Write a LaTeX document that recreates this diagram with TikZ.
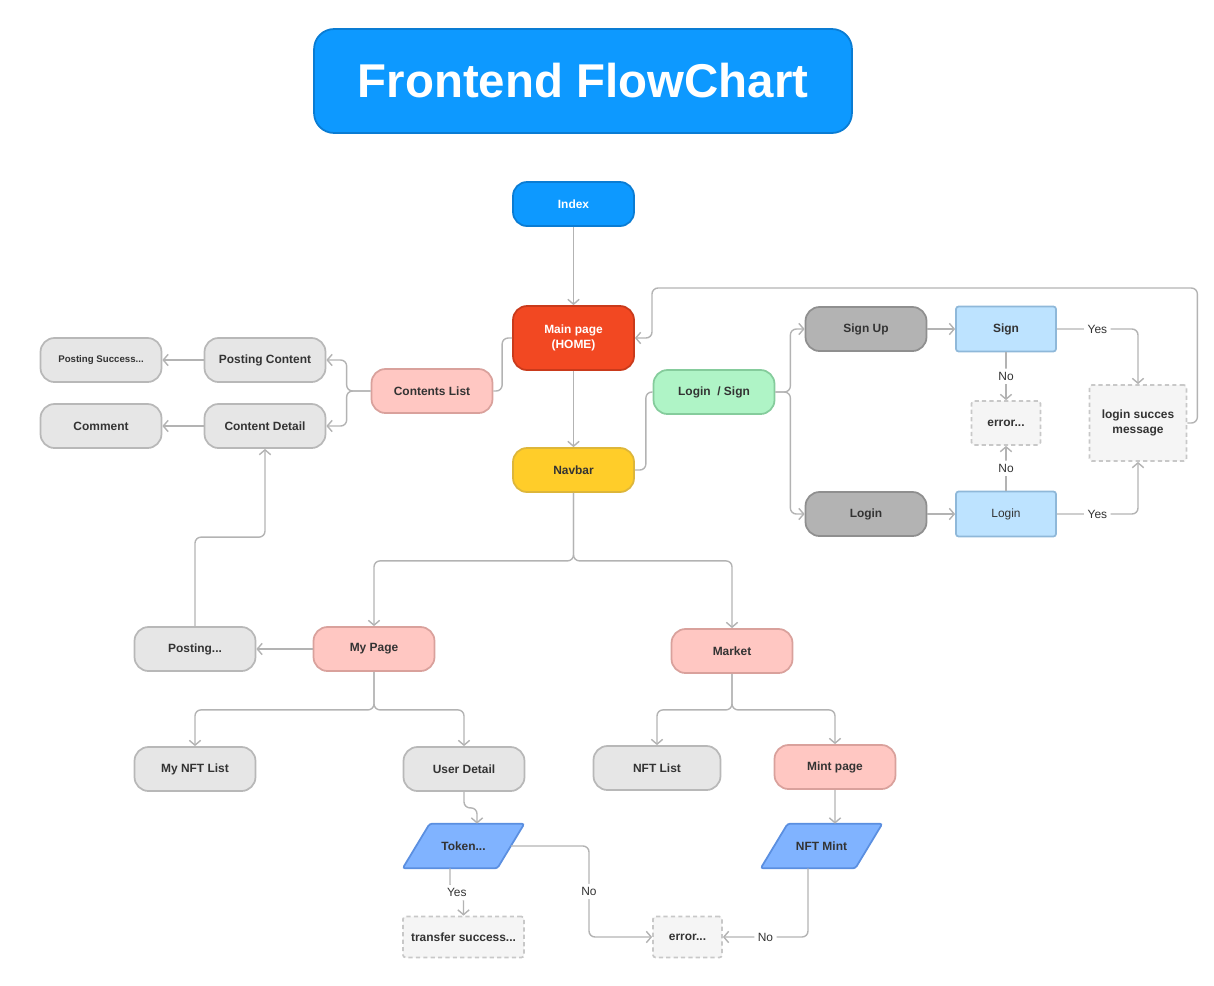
\documentclass[tikz,border=0pt]{standalone}
\usepackage{fontspec}
\setmainfont{Liberation Sans}
\usetikzlibrary{arrows.meta}
\pgfdeclarelayer{background}
\pgfsetlayers{background,main}

\definecolor{txtgray}{HTML}{333333}
\definecolor{linkgray}{HTML}{B3B3B3}
\definecolor{figblue}{HTML}{0D99FF}
\definecolor{figbluedk}{HTML}{0A7CD3}
\definecolor{homered}{HTML}{F24822}
\definecolor{homereddk}{HTML}{C93A1B}
\definecolor{navyel}{HTML}{FFCD29}
\definecolor{navyeldk}{HTML}{DDB63A}
\definecolor{pinkfill}{HTML}{FFC7C2}
\definecolor{pinkdk}{HTML}{D9A19C}
\definecolor{greenfill}{HTML}{AFF4C6}
\definecolor{greendk}{HTML}{85CC9C}
\definecolor{lightgray}{HTML}{E6E6E6}
\definecolor{lightgraydk}{HTML}{B8B8B8}
\definecolor{midgray}{HTML}{B3B3B3}
\definecolor{midgraydk}{HTML}{8F8F8F}
\definecolor{skyfill}{HTML}{BDE3FF}
\definecolor{skydk}{HTML}{8FB8D9}
\definecolor{paramblue}{HTML}{80B3FF}
\definecolor{parambluedk}{HTML}{5B8FE0}
\definecolor{notefill}{HTML}{F5F5F5}
\definecolor{notedk}{HTML}{C8C8C8}

\begin{document}
\begin{tikzpicture}[x=0.02cm,y=-0.02cm,
  every node/.style={font=\fontsize{6.8}{8.2}\selectfont\bfseries,text=txtgray,align=center,inner sep=0pt},
  pill/.style={rounded corners=0.28cm,minimum width=2.42cm,minimum height=0.88cm,line width=1pt},
  graypill/.style={pill,fill=lightgray,draw=lightgraydk},
  pinkpill/.style={pill,fill=pinkfill,draw=pinkdk},
  darkpill/.style={pill,fill=midgray,draw=midgraydk},
  skybox/.style={rounded corners=1.5pt,minimum width=2cm,minimum height=0.9cm,line width=1pt,fill=skyfill,draw=skydk},
  notebox/.style={rounded corners=1.5pt,minimum width=1.38cm,minimum height=0.88cm,line width=1pt,fill=notefill,draw=notedk,dash pattern=on 2.4pt off 1.8pt},
  parabody/.style={minimum width=1.88cm,minimum height=0.88cm},
  paraline/.style={rounded corners=1.5pt,line width=1pt,fill=paramblue,draw=parambluedk},
  link/.style={draw=linkgray,line width=0.8pt,rounded corners=0.12cm},
  arr/.style={link,-{Straight Barb[length=2.8pt,width=6.5pt]}},
  lbl/.style={fill=white,font=\fontsize{6.8}{8.2}\selectfont,inner sep=2pt}
]
\useasboundingbox (0,0) rectangle (1214,985);

\node[rounded corners=0.4cm,minimum width=10.76cm,minimum height=2.08cm,fill=figblue,draw=figbluedk,line width=1pt,text=white,font=\fontsize{27}{30}\selectfont\bfseries] (title) at (583,81) {Frontend FlowChart};

\node[pill,fill=figblue,draw=figbluedk,text=white] (index) at (573.5,204) {Index};
\node[pill,minimum height=1.28cm,fill=homered,draw=homereddk,text=white] (main) at (573.5,338) {Main page\\(HOME)};
\node[pill,fill=navyel,draw=navyeldk] (navbar) at (573.5,470) {Navbar};

\node[pinkpill] (clist) at (432,391) {Contents List};
\node[graypill] (pcont) at (265,360) {Posting Content};
\node[graypill] (cdet) at (265,426) {Content Detail};
\node[graypill,font=\fontsize{5.5}{6.6}\selectfont\bfseries] (psucc) at (101,360) {Posting Success...};
\node[graypill] (comment) at (101,426) {Comment};

\node[pill,fill=greenfill,draw=greendk] (login) at (714,392) {Login\ \ / Sign};
\node[darkpill] (signup) at (866,329) {Sign Up};
\node[darkpill] (loginbtn) at (866,514) {Login};
\node[skybox] (sign) at (1006,329) {Sign};
\node[skybox,font=\fontsize{6.8}{8.2}\selectfont] (loginbox) at (1006,514) {Login};
\node[notebox] (err1) at (1006,423) {error...};
\node[notebox,minimum width=1.94cm,minimum height=1.52cm] (msg) at (1138,423) {login succes\\message};

\node[pinkpill] (mypage) at (374,649) {My Page};
\node[pinkpill] (market) at (732,651) {Market};
\node[graypill] (posting) at (195,649) {Posting...};
\node[graypill] (mynft) at (195,769) {My NFT List};
\node[graypill] (udet) at (464,769) {User Detail};
\node[graypill,minimum width=2.54cm] (nftlist) at (657,768) {NFT List};
\node[pinkpill] (mint) at (835,767) {Mint page};
\node[parabody] (token) at (463.5,846) {Token...};
\node[parabody] (nftmint) at (821.5,846) {NFT Mint};
\node[notebox,minimum width=2.42cm,minimum height=0.82cm] (xfer) at (463.5,937) {transfer success...};
\node[notebox,minimum height=0.82cm] (err2) at (687.5,937) {error...};

\begin{pgfonlayer}{background}
\foreach \p in {token,nftmint}
  \draw[paraline] ([xshift=-0.27cm]\p.south west) -- ([xshift=0.27cm]\p.north west)
    -- ([xshift=0.27cm]\p.north east) -- ([xshift=-0.27cm]\p.south east) -- cycle;
\end{pgfonlayer}

\draw[arr] (index) -- (main);
\draw[arr] (main) -- (navbar);
\draw[link] (main.west) -- ++(-10,0) |- (clist.east);
\draw[arr] (clist.west) -- ++(-24,0) |- (pcont.east);
\draw[arr] (clist.west) -- ++(-24,0) |- (cdet.east);
\draw[arr] (pcont) -- (psucc);
\draw[arr] (cdet) -- (comment);

\draw[link] (navbar.east) -- ++(11,0) |- (login.west);
\draw[arr] (login.east) -- ++(15,0) |- (signup.west);
\draw[arr] (login.east) -- ++(15,0) |- (loginbtn.west);
\draw[arr] (signup) -- (sign);
\draw[arr] (loginbtn) -- (loginbox);
\draw[arr] (sign) -- node[lbl]{No} (err1);
\draw[arr] (loginbox) -- node[lbl]{No} (err1);
\draw[arr] (sign.east) -| node[lbl,pos=0.25]{Yes} (msg.north);
\draw[arr] (loginbox.east) -| node[lbl,pos=0.25]{Yes} (msg.south);
\draw[arr] (msg.east) -- ++(10,0) |- (652,288) |- (main.east);

\draw[arr] (navbar.south) -- ++(0,68) -| (mypage.north);
\draw[arr] (navbar.south) -- ++(0,68) -| (market.north);
\draw[arr] (mypage) -- (posting);
\draw[arr] (posting.north) -- ++(0,-89) -| (cdet.south);
\draw[arr] (mypage.south) -- ++(0,38) -| (mynft.north);
\draw[arr] (mypage.south) -- ++(0,38) -| (udet.north);
\draw[arr] (market.south) -- ++(0,36) -| (nftlist.north);
\draw[arr] (market.south) -- ++(0,36) -| (mint.north);
\draw[arr] (udet.south) -- ++(0,16) -| ([xshift=0.27cm]token.north);
\draw[arr] ([xshift=-0.27cm]token.south) -- ++(0,22) -- node[lbl]{Yes} ([yshift=0.41cm]xfer.north) -- (xfer.north);
\draw[arr] (token.east) -- (589,846) |- node[lbl,pos=0.25]{No} (err2.west);
\draw[arr] (mint.south) -- ([xshift=0.27cm]nftmint.north);
\draw[arr] ([xshift=-0.27cm]nftmint.south) |- node[lbl,pos=0.75]{No} (err2.east);
\end{tikzpicture}
\end{document}
